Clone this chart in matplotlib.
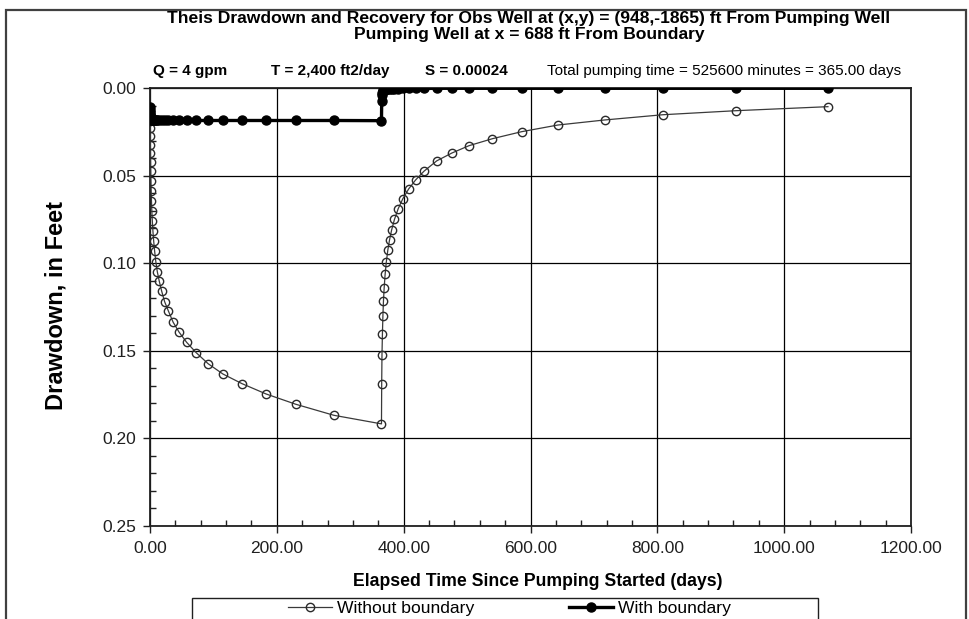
import matplotlib
matplotlib.use("Agg")
import matplotlib.pyplot as plt
from matplotlib.patches import Rectangle
from matplotlib.ticker import MultipleLocator, FormatStrFormatter
from matplotlib.lines import Line2D

plt.rcParams['font.family'] = ['Liberation Sans', 'DejaVu Sans']

# ---- data (elapsed days, drawdown ft) ----
pump_days = [0.29, 0.365, 0.46, 0.58, 0.73, 0.92, 1.15, 1.45, 1.83, 2.30, 2.90,
             3.65, 4.59, 5.78, 7.28, 9.16, 11.5, 14.5, 18.3, 23.0, 29.0,
             36.5, 45.9, 57.8, 72.8, 91.6, 115.0, 145.0, 183.0, 230.0, 290.0, 365.0]
pump_no_bdy = [0.0188, 0.0229, 0.0275, 0.0322, 0.0372, 0.0422, 0.0475, 0.0530, 0.0587, 0.0643, 0.0700,
               0.0758, 0.0815, 0.0872, 0.0930, 0.0990, 0.1048, 0.1101, 0.1158, 0.1219, 0.1273,
               0.1337, 0.1394, 0.1452, 0.1511, 0.1574, 0.1633, 0.1688, 0.1747, 0.1806, 0.1869, 0.1918]
pump_bdy = [0.0105, 0.0122, 0.0136, 0.0148, 0.0158, 0.0165, 0.0171, 0.0175, 0.0178, 0.0180, 0.0182,
            0.0183, 0.0184, 0.0184, 0.0184, 0.0184, 0.0184, 0.0184, 0.0184, 0.0184, 0.0184,
            0.0184, 0.0184, 0.0184, 0.0184, 0.0184, 0.0184, 0.0184, 0.0184, 0.0184, 0.0184, 0.0185]

rec_days = [365.35, 365.8, 366.5, 367.27, 368.14, 369.27, 370.77, 372.59, 375.05, 377.7,
            381.0, 385.5, 391.4, 398.7, 407.9, 418.8, 432.0, 452.0, 476.0, 503.0,
            540.0, 586.0, 643.0, 717.0, 809.0, 924.0, 1069.0]
rec_no_bdy = [0.1690, 0.1524, 0.1404, 0.1299, 0.1216, 0.1139, 0.1063, 0.0994, 0.0924, 0.0867,
              0.0810, 0.0749, 0.0688, 0.0631, 0.0575, 0.0524, 0.0474, 0.0415, 0.0370, 0.0328,
              0.0288, 0.0248, 0.0210, 0.0181, 0.0151, 0.0128, 0.0105]
rec_bdy = [0.0075, 0.0040, 0.0025, 0.0017, 0.0012, 0.0009, 0.0007, 0.0005, 0.0004, 0.0003,
           0.0003, 0.0002, 0.0002, 0.0001, 0.0001, 0.0001, 0.0001, 0.0000, 0.0000, 0.0000,
           0.0000, 0.0000, 0.0000, 0.0000, 0.0000, 0.0000, 0.0000]

title_lines = ["Theis Drawdown and Recovery for Obs Well at (x,y) = (948,-1865) ft From Pumping Well",
               "Pumping Well at x = 688 ft From Boundary"]
param_q = "Q = 4 gpm"
param_t = "T = 2,400 ft2/day"
param_s = "S = 0.00024"
param_total = "Total pumping time = 525600 minutes = 365.00 days"
x_label = "Elapsed Time Since Pumping Started (days)"
y_label = "Drawdown, in Feet"
series_names = ["Without boundary", "With boundary"]

W, H = 970, 619
fig = plt.figure(figsize=(W / 100, H / 100), dpi=100)

def fx(px):
    return px / W

def fy(py):
    return 1 - py / H

# outer chart border
fig.patches.append(Rectangle((fx(5.7), fy(640)), fx(966) - fx(5.7), fy(9.7) - fy(640),
                             transform=fig.transFigure, fill=False, edgecolor='#404040',
                             linewidth=1.6, clip_on=False))

ax = fig.add_axes([fx(150), fy(525.7), fx(911) - fx(150), fy(88.3) - fy(525.7)])

x_all = pump_days + rec_days
y_all_nb = pump_no_bdy + rec_no_bdy
y_all_b = pump_bdy + rec_bdy

ax.plot(x_all, y_all_nb, color='#3a3a3a', linewidth=0.9, marker='o', markersize=6,
        markerfacecolor='none', markeredgecolor='#2a2a2a', markeredgewidth=1.0,
        label=series_names[0], zorder=3)
ax.plot(x_all, y_all_b, color='black', linewidth=2.4, marker='o', markersize=6.5,
        markerfacecolor='black', markeredgecolor='black', label=series_names[1], zorder=4)

ax.set_xlim(0, 1200)
ax.set_ylim(0.25, 0.0)
ax.xaxis.set_major_locator(MultipleLocator(200))
ax.xaxis.set_minor_locator(MultipleLocator(40))
ax.yaxis.set_major_locator(MultipleLocator(0.05))
ax.yaxis.set_minor_locator(MultipleLocator(0.01))
ax.xaxis.set_major_formatter(FormatStrFormatter('%.2f'))
ax.yaxis.set_major_formatter(FormatStrFormatter('%.2f'))
ax.grid(True, which='major', color='black', linewidth=0.9)
ax.set_axisbelow(True)
for sp in ax.spines.values():
    sp.set_color('#202020')
    sp.set_linewidth(1.3)
ax.tick_params(which='major', direction='out', length=5, width=1, labelsize=12.5, colors='#202020',
               labelcolor='#202020')
ax.tick_params(axis='x', which='major', pad=6)
ax.tick_params(axis='y', which='major', pad=5)
ax.tick_params(which='minor', direction='in', length=4, width=1, colors='#202020')

ax.set_xlabel(x_label, fontsize=12.7, fontweight='bold')
ax.xaxis.set_label_coords((538 - 150) / (911 - 150), -(582 - 525.7) / (525.7 - 88.3))
ax.xaxis.label.set_va('center')
ax.set_ylabel(y_label, fontsize=17, fontweight='bold')
ax.yaxis.set_label_coords(-(150 - 56) / (911 - 150), (525.7 - 306) / (525.7 - 88.3))
ax.yaxis.label.set_va('center')

fig.text(fx(529), fy(18), title_lines[0], ha='center', va='center', fontsize=12.6, fontweight='bold')
fig.text(fx(529), fy(35), title_lines[1], ha='center', va='center', fontsize=12.6, fontweight='bold')

fig.text(fx(153), fy(71), param_q, ha='left', va='center', fontsize=11, fontweight='bold')
fig.text(fx(271), fy(71), param_t, ha='left', va='center', fontsize=11, fontweight='bold')
fig.text(fx(425), fy(71), param_s, ha='left', va='center', fontsize=11, fontweight='bold')
fig.text(fx(901), fy(71), param_total, ha='right', va='center', fontsize=11)

# legend box
fig.patches.append(Rectangle((fx(192), fy(640)), fx(818) - fx(192), fy(598) - fy(640),
                             transform=fig.transFigure, fill=True, facecolor='white',
                             edgecolor='#202020', linewidth=1.0, clip_on=False))
h0 = Line2D([], [], color='#3a3a3a', linewidth=0.9, marker='o', markersize=6,
            markerfacecolor='none', markeredgecolor='#2a2a2a')
h1 = Line2D([], [], color='black', linewidth=2.4, marker='o', markersize=6.5,
            markerfacecolor='black')
leg = fig.legend([h0, h1], series_names, loc='center left', bbox_to_anchor=(fx(288), fy(608)),
                 ncol=2, frameon=False, fontsize=12.6, handlelength=2.5, handletextpad=0.3,
                 columnspacing=5.4, borderaxespad=0, borderpad=0)

fig.savefig("out.png", dpi=100)
